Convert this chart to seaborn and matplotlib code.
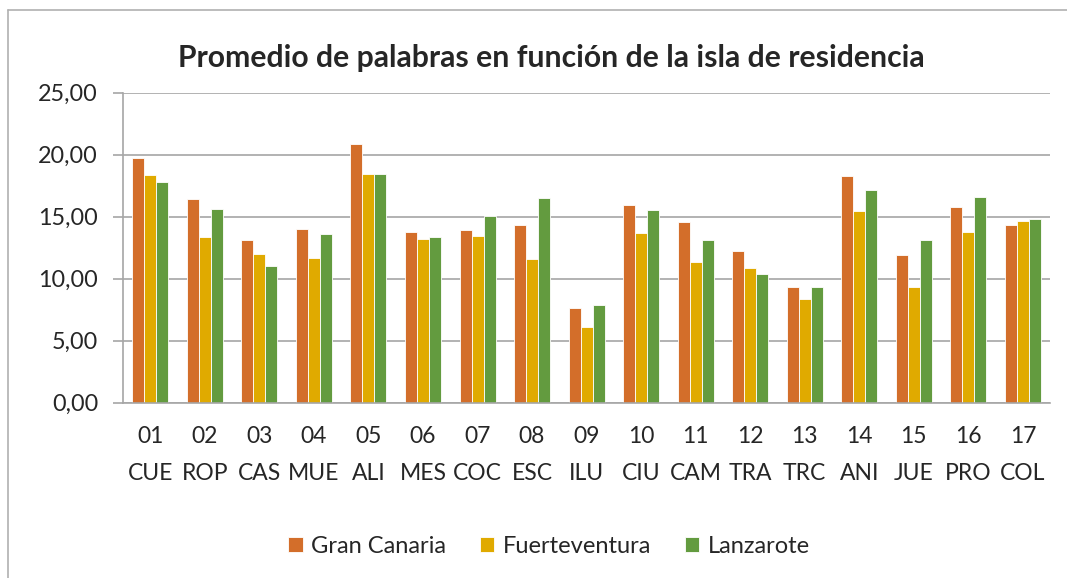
import numpy as np
import pandas as pd
import matplotlib
matplotlib.use("Agg")
import matplotlib.pyplot as plt
from matplotlib.lines import Line2D
from matplotlib.ticker import FixedLocator, FuncFormatter
import seaborn as sns

# data
categories = ["01\nCUE", "02\nROP", "03\nCAS", "04\nMUE", "05\nALI", "06\nMES",
              "07\nCOC", "08\nESC", "09\nILU", "10\nCIU", "11\nCAM", "12\nTRA",
              "13\nTRC", "14\nANI", "15\nJUE", "16\nPRO", "17\nCOL"]
gran_canaria = [19.76, 16.42, 13.09, 14.01, 20.86, 13.79, 13.95, 14.33, 7.66,
                15.94, 14.54, 12.20, 9.35, 18.28, 11.91, 15.78, 14.30]
fuerteventura = [18.36, 13.33, 11.99, 11.64, 18.41, 13.20, 13.44, 11.56, 6.13,
                 13.66, 11.34, 10.86, 8.36, 15.43, 9.35, 13.76, 14.68]
lanzarote = [17.80, 15.65, 11.02, 13.60, 18.41, 13.39, 15.05, 16.48, 7.90,
             15.51, 13.09, 10.38, 9.30, 17.15, 13.12, 16.56, 14.81]
islands = ["Gran Canaria", "Fuerteventura", "Lanzarote"]
colors = ["#D36E2A", "#E0AA00", "#639B3F"]

df = pd.DataFrame({"cat": categories, "Gran Canaria": gran_canaria,
                   "Fuerteventura": fuerteventura, "Lanzarote": lanzarote})
df = df.melt(id_vars="cat", value_vars=islands, var_name="isla", value_name="valor")

sns.set_style("white")
plt.rcParams["font.family"] = ["Lato", "DejaVu Sans"]

fig = plt.figure(figsize=(10.67, 5.78), dpi=100)
ax = fig.add_axes([0.1153, 0.3033, 0.8689, 0.5363])

sns.barplot(data=df, x="cat", y="valor", hue="isla", hue_order=islands,
            palette=colors, width=0.66, saturation=1, ax=ax,
            edgecolor="white", linewidth=0.6, legend=True)

grid_col = "#a6a6a6"
ax.set_ylim(0, 25)
ax.set_xlim(-0.5, len(categories) - 0.5)
ax.yaxis.set_major_locator(FixedLocator([0, 5, 10, 15, 20, 25]))
ax.yaxis.set_major_formatter(FuncFormatter(lambda v, p: f"{v:.2f}".replace(".", ",")))
ax.grid(axis="y", color=grid_col, linewidth=1.2)
ax.set_axisbelow(True)
for s in ["top", "right"]:
    ax.spines[s].set_visible(False)
for s in ["left", "bottom"]:
    ax.spines[s].set_color(grid_col)
    ax.spines[s].set_linewidth(1.2)

ax.set_xlabel("")
ax.set_ylabel("")
# ticks between categories, like excel
ax.set_xticks(np.arange(-0.5, len(categories), 1.0), minor=True)
ax.tick_params(axis="x", which="minor", length=7, width=1.2, color=grid_col)
ax.tick_params(axis="x", which="major", length=0, pad=17, labelsize=16.5)
ax.tick_params(axis="y", length=7, width=1.2, color=grid_col, pad=11, labelsize=16.8,
               left=True)
for t in ax.get_xticklabels():
    t.set_linespacing(1.95)

fig.text(0.517, 0.9, "Promedio de palabras en función de la isla de residencia",
         ha="center", va="center", fontsize=21.7, fontweight="bold")

ax.get_legend().remove()
handles, labels = ax.get_legend_handles_labels()
fig.legend(handles[:3], labels[:3], loc="center", bbox_to_anchor=(0.5145, 0.055),
           ncol=3, frameon=False, fontsize=17, handlelength=0.61, handleheight=0.61,
           handletextpad=0.34, columnspacing=1.45)

# chart frame (only top and left edges are visible in the crop)
fig.add_artist(Line2D([0.0075, 0.0075], [0.0, 0.983], color="#b0b0b0", lw=1.2))
fig.add_artist(Line2D([0.0075, 1.0], [0.983, 0.983], color="#b0b0b0", lw=1.2))

fig.savefig("out.png", dpi=100)
